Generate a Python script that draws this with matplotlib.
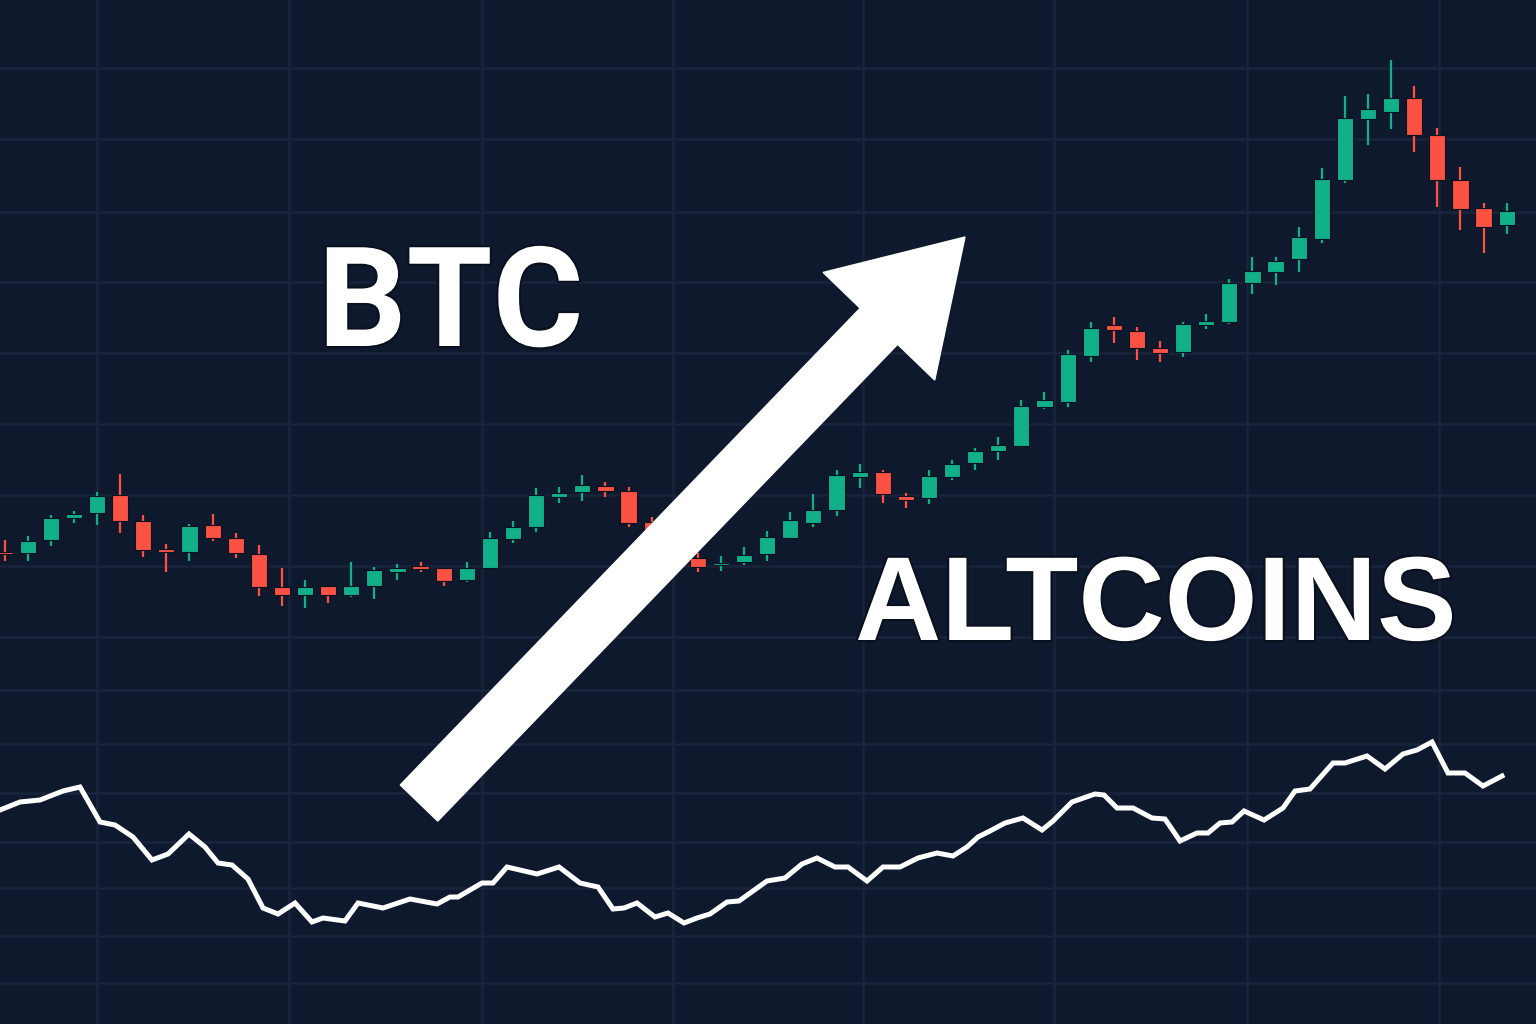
import numpy as np
import matplotlib
matplotlib.use('Agg')
import matplotlib.pyplot as plt
from matplotlib.patches import FancyArrow
import matplotlib.patheffects as pe

# colours
BG = '#0f192e'
GRID = '#19233b'
UP = '#12b088'
DOWN = '#fc5244'

# candles (price units, 66 sessions)
opens = [472, 471, 484, 506, 511, 529, 503, 475, 472, 499, 486, 470, 437, 429, 438, 429, 438, 452,
         458, 456, 444, 456, 485, 497, 527, 532, 538, 533, 502, 482, 466, 459, 462, 470, 486, 501,
         514, 547, 552, 528, 526, 547, 561, 573, 578, 617, 622, 668, 699, 693, 676, 672, 699, 702,
         741, 752, 765, 785, 844, 905, 912, 926, 889, 844, 816, 799]
highs = [484, 488, 509, 513, 532, 550, 509, 480, 500, 510, 491, 479, 456, 444, 438, 462, 457, 460,
         462, 456, 462, 492, 503, 536, 537, 549, 542, 537, 507, 486, 471, 468, 477, 493, 512, 530,
         554, 560, 554, 531, 554, 564, 576, 587, 624, 632, 674, 702, 707, 697, 683, 702, 710, 745,
         767, 767, 797, 856, 928, 930, 964, 938, 896, 857, 821, 821]
lows = [463, 463, 478, 501, 499, 491, 467, 452, 463, 483, 466, 428, 418, 416, 421, 427, 425, 444,
        452, 438, 442, 456, 481, 492, 521, 523, 527, 497, 476, 464, 452, 453, 459, 463, 485, 497,
        508, 536, 521, 516, 520, 544, 554, 564, 578, 615, 617, 662, 681, 664, 662, 667, 695, 700,
        730, 739, 752, 781, 841, 879, 895, 872, 817, 794, 771, 790]
closes = [470, 483, 506, 510, 528, 503, 474, 472, 498, 486, 471, 437, 429, 437, 429, 438, 454, 456,
          455, 443, 456, 486, 497, 529, 531, 539, 533, 501, 480, 468, 457, 461, 469, 487, 504, 514,
          549, 552, 530, 524, 548, 560, 573, 579, 618, 624, 670, 696, 694, 676, 671, 700, 703, 741,
          753, 763, 787, 845, 906, 915, 926, 889, 844, 815, 797, 813]

# lower index line
line_t = [0, 20, 40, 63, 80, 100, 115, 133, 152, 168, 189, 205, 218, 232, 248, 263, 278, 295, 312,
          323, 345, 358, 383, 410, 437, 450, 458, 482, 493, 507, 537, 559, 580, 598, 613, 624, 637,
          655, 668, 684, 697, 710, 727, 739, 753, 767, 785, 802, 817, 835, 848, 867, 883, 900, 918,
          937, 953, 967, 978, 990, 1005, 1023, 1042, 1053, 1072, 1095, 1104, 1117, 1133, 1152, 1165,
          1180, 1197, 1208, 1220, 1232, 1244, 1264, 1283, 1295, 1310, 1333, 1345, 1367, 1385, 1403,
          1417, 1432, 1448, 1465, 1483, 1502]
line_v = [214, 222, 224, 233, 237, 202, 199, 187, 164, 170, 190, 177, 161, 159, 145, 116, 110, 121,
          102, 106, 103, 121, 116, 125, 120, 127, 127, 141, 141, 157, 150, 157, 141, 137, 115, 116,
          121, 107, 111, 101, 106, 110, 122, 123, 133, 143, 146, 160, 166, 157, 157, 143, 157, 157,
          166, 171, 168, 177, 187, 193, 201, 206, 194, 203, 222, 230, 229, 216, 216, 206, 205, 183,
          191, 191, 201, 202, 213, 204, 216, 233, 235, 261, 261, 268, 255, 270, 274, 282, 251, 251,
          238, 248]

grid_x = [97, 289, 482, 673, 863, 1054, 1247, 1439]
grid_y = [956, 885, 812, 742, 671, 600, 529, 458, 387, 334, 280, 231, 182, 136, 88, 41]

fig = plt.figure(figsize=(15.36, 10.24), dpi=100, facecolor=BG)

# background: grid + line
ax = fig.add_axes([0, 0, 1, 1])
ax.set_facecolor(BG)
ax.set_xlim(0, 1536)
ax.set_ylim(0, 1024)
for gx in grid_x:
    ax.axvline(gx, color=GRID, lw=1.8, zorder=0)
for gy in grid_y:
    ax.axhline(gy, color=GRID, lw=1.8, zorder=0)
ax.plot(line_t, line_v, color='white', lw=3.6, solid_joinstyle='miter', zorder=3)
ax.axis('off')

# candles
axc = fig.add_axes([0, 0, 1, 1])
axc.patch.set_alpha(0)
x = np.arange(len(opens))
o = np.array(opens)
c = np.array(closes)
colors = [UP if cc >= oo else DOWN for oo, cc in zip(o, c)]
axc.vlines(x, lows, highs, colors=colors, lw=1.6, zorder=2)
axc.bar(x, c - o, bottom=o, width=0.7, color=colors, edgecolor='#0b1222', linewidth=0.8, zorder=3)
axc.set_xlim(-0.2, 66.27)
axc.set_ylim(0, 1024)
axc.axis('off')

# overlay: arrow + labels
axt = fig.add_axes([0, 0, 1, 1])
axt.patch.set_alpha(0)
axt.set_xlim(0, 1536)
axt.set_ylim(0, 1024)
axt.add_patch(FancyArrow(419, 221, 546, 566, width=52, head_width=155, head_length=124,
                         length_includes_head=True, color='white', zorder=5))
shadow = [pe.withStroke(linewidth=3, foreground='#0a101e')]
axt.text(318, 678, 'BTC', fontsize=100, fontweight='bold', family=['Roboto', 'DejaVu Sans'],
         color='white', ha='left', va='baseline', path_effects=shadow)
axt.text(855, 384, 'ALTCOINS', fontsize=86, fontweight='bold', family=['Liberation Sans', 'DejaVu Sans'],
         color='white', ha='left', va='baseline', path_effects=shadow)
axt.axis('off')

plt.savefig('out.png', dpi=100, facecolor=BG)
plt.close()
